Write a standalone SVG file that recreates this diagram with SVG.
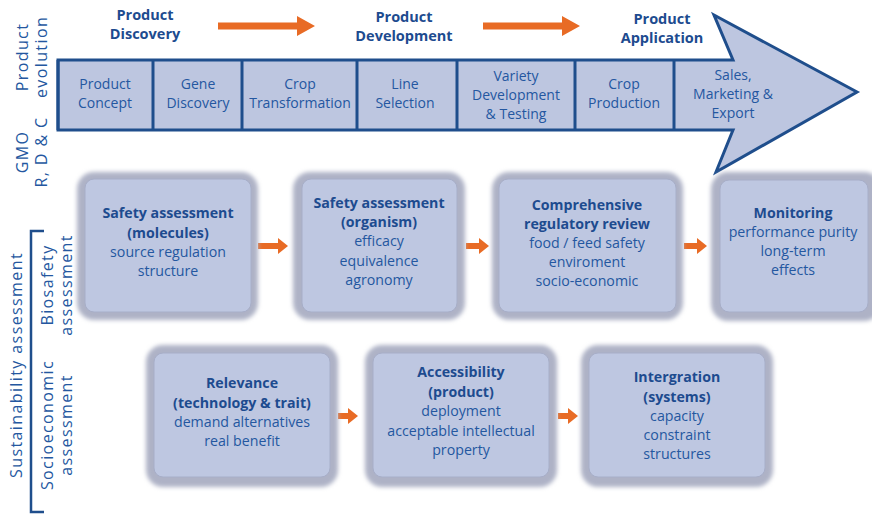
<svg xmlns="http://www.w3.org/2000/svg" width="872" height="514" viewBox="0 0 872 514">
<defs>
<filter id="soft" x="-10%" y="-10%" width="120%" height="120%"><feGaussianBlur stdDeviation="2.2"/></filter>
<style>
text{font-family:"Open Sans","Noto Sans",sans-serif;text-anchor:middle;fill:#2457a0;font-size:14.2px}
.c{font-size:14px}
.b{font-weight:bold;fill:#1d4b8f}
.h{font-weight:bold;fill:#1d4b8f;font-size:14.5px}
.side{font-size:16px;fill:#2457a0;letter-spacing:1.4px}
.ring{fill:#aeb2c6;filter:url(#soft)}
.inner{fill:#bec7e1;stroke:#a7aec8;stroke-width:1}
.oa{fill:#e86b25}
.cell{fill:none;stroke:#1f4e8c;stroke-width:3}
</style>
</defs>
<rect width="872" height="514" fill="#ffffff"/>

<g id="headers">
<text class="h" x="145" y="20">Product</text>
<text class="h" x="145" y="39">Discovery</text>
<text class="h" x="404" y="22">Product</text>
<text class="h" x="404" y="41">Development</text>
<text class="h" x="662" y="24">Product</text>
<text class="h" x="662" y="43">Application</text>
<polygon class="oa" points="218,22.5 297,22.5 297,16 315,26 297,36 297,29.5 218,29.5"/>
<polygon class="oa" points="483,22.5 562,22.5 562,16 580,26 562,36 562,29.5 483,29.5"/>
</g>

<g id="side-labels">
<text class="side" transform="translate(28,57) rotate(-90)">Product</text>
<text class="side" transform="translate(47,57) rotate(-90)">evolution</text>
<text class="side" transform="translate(28,152) rotate(-90)">GMO</text>
<text class="side" transform="translate(47,152) rotate(-90)">R, D &amp; C</text>
<text class="side" transform="translate(22,365) rotate(-90)">Sustainability assessment</text>
<text class="side" transform="translate(53,285) rotate(-90)">Biosafety</text>
<text class="side" transform="translate(72,285) rotate(-90)">assessment</text>
<text class="side" transform="translate(53,425) rotate(-90)">Socioeconomic</text>
<text class="side" transform="translate(72,425) rotate(-90)">assessment</text>
<polyline points="44,231 31,231 31,512 44,512" fill="none" stroke="#1f4e8c" stroke-width="2.5"/>
</g>

<g id="evolution-arrow">
<polygon points="58,60 733,60 714,15 857,92 716,172 733,130 58,130" fill="#bdc6e0" stroke="#1f4e8c" stroke-width="3" stroke-linejoin="miter"/>
<line class="cell" x1="58" y1="60" x2="58" y2="130"/>
<line class="cell" x1="153" y1="60" x2="153" y2="130"/>
<line class="cell" x1="242" y1="60" x2="242" y2="130"/>
<line class="cell" x1="357" y1="60" x2="357" y2="130"/>
<line class="cell" x1="457" y1="60" x2="457" y2="130"/>
<line class="cell" x1="575" y1="60" x2="575" y2="130"/>
<line class="cell" x1="674" y1="60" x2="674" y2="130"/>
<text class="c" x="105" y="89">Product</text><text class="c" x="105" y="108">Concept</text>
<text class="c" x="198" y="89">Gene</text><text class="c" x="198" y="108">Discovery</text>
<text class="c" x="300" y="89">Crop</text><text class="c" x="300" y="108">Transformation</text>
<text class="c" x="405" y="89">Line</text><text class="c" x="405" y="108">Selection</text>
<text class="c" x="516" y="81">Variety</text><text class="c" x="516" y="100">Development</text><text class="c" x="516" y="119">&amp; Testing</text>
<text class="c" x="624" y="89">Crop</text><text class="c" x="624" y="108">Production</text>
<text class="c" x="733" y="80">Sales,</text><text class="c" x="733" y="99">Marketing &amp;</text><text class="c" x="733" y="118">Export</text>
</g>

<g id="connectors">
<polygon class="oa" points="258,243 278,243 278,238 288,246 278,254 278,249 258,249"/>
<polygon class="oa" points="466,243 479,243 479,238 489,246 479,254 479,249 466,249"/>
<polygon class="oa" points="684,243 697,243 697,238 707,246 697,254 697,249 684,249"/>
<polygon class="oa" points="338,413 348,413 348,408 358,416 348,424 348,419 338,419"/>
<polygon class="oa" points="558,413 568,413 568,408 578,416 568,424 568,419 558,419"/>
</g>

<g id="box-molecules">
<rect class="ring" x="77" y="172" width="181" height="148" rx="17"/>
<rect class="inner" x="85" y="179" width="166" height="133" rx="9"/>
<text class="b" x="168" y="218">Safety assessment</text>
<text class="b" x="168" y="238">(molecules)</text>
<text x="168" y="257">source regulation</text>
<text x="168" y="276">structure</text>
</g>

<g id="box-organism">
<rect class="ring" x="293" y="172" width="172" height="148" rx="17"/>
<rect class="inner" x="302" y="179" width="155" height="133" rx="9"/>
<text class="b" x="379" y="208">Safety assessment</text>
<text class="b" x="379" y="227">(organism)</text>
<text x="379" y="246">efficacy</text>
<text x="379" y="266">equivalence</text>
<text x="379" y="285">agronomy</text>
</g>

<g id="box-regulatory">
<rect class="ring" x="492" y="172" width="191" height="148" rx="17"/>
<rect class="inner" x="499" y="179" width="177" height="133" rx="9"/>
<text class="b" x="587" y="210">Comprehensive</text>
<text class="b" x="587" y="229">regulatory review</text>
<text x="587" y="248">food / feed safety</text>
<text x="587" y="267">enviroment</text>
<text x="587" y="286">socio-economic</text>
</g>

<g id="box-monitoring">
<rect class="ring" x="711" y="172" width="170" height="149" rx="17"/>
<rect class="inner" x="720" y="180" width="148" height="132" rx="9"/>
<text class="b" x="793" y="218">Monitoring</text>
<text x="793" y="237">performance purity</text>
<text x="793" y="256">long-term</text>
<text x="793" y="275">effects</text>
</g>

<g id="box-relevance">
<rect class="ring" x="146" y="345" width="192" height="142" rx="17"/>
<rect class="inner" x="154" y="353" width="176" height="124" rx="9"/>
<text class="b" x="242" y="388">Relevance</text>
<text class="b" x="242" y="408">(technology &amp; trait)</text>
<text x="242" y="427">demand alternatives</text>
<text x="242" y="446">real benefit</text>
</g>

<g id="box-accessibility">
<rect class="ring" x="365" y="345" width="192" height="142" rx="17"/>
<rect class="inner" x="373" y="353" width="176" height="124" rx="9"/>
<text class="b" x="461" y="377">Accessibility</text>
<text class="b" x="461" y="397">(product)</text>
<text x="461" y="416">deployment</text>
<text x="461" y="436">acceptable intellectual</text>
<text x="461" y="455">property</text>
</g>

<g id="box-integration">
<rect class="ring" x="581" y="345" width="192" height="142" rx="17"/>
<rect class="inner" x="589" y="353" width="176" height="124" rx="9"/>
<text class="b" x="677" y="382">Intergration</text>
<text class="b" x="677" y="402">(systems)</text>
<text x="677" y="421">capacity</text>
<text x="677" y="440">constraint</text>
<text x="677" y="459">structures</text>
</g>
</svg>
